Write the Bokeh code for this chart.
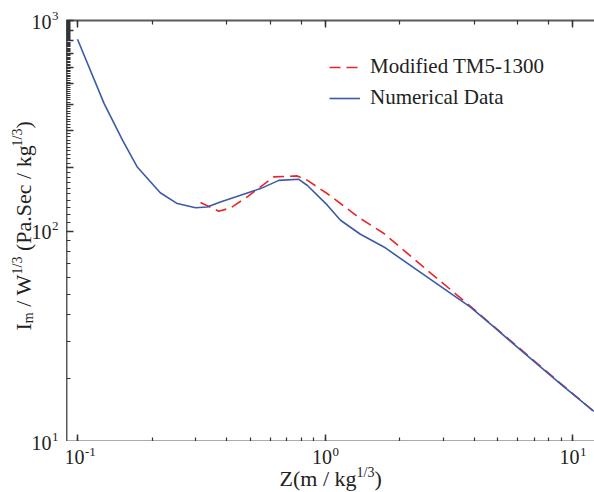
import math
from bokeh.plotting import figure
from bokeh.layouts import row, column
from bokeh.models import LogAxis, Label, Legend, LegendItem, Range1d, CustomJSTickFormatter
from bokeh.embed import file_html
from bokeh.resources import INLINE

# ---- data ----
blue_z = [0.100, 0.128, 0.152, 0.174, 0.216, 0.253, 0.300, 0.334, 0.378, 0.456,
          0.549, 0.651, 0.783, 0.847, 1.02, 1.155, 1.39, 1.73, 2.59, 3.87,
          4.81, 6.56, 8.94, 12.2]
blue_i = [814, 404, 270, 202, 152, 135, 129, 130, 137.5, 148,
          159, 174, 176, 165, 133, 112.5, 96.5, 84, 60.4, 43.5,
          35.0, 25.6, 18.8, 13.9]

red_z = [0.314, 0.372, 0.415, 0.485, 0.549, 0.621, 0.772, 0.847, 1.02, 1.155,
         1.39, 1.73, 2.59, 3.87, 4.81, 6.56, 8.94, 12.2]
red_i = [136.6, 124.2, 128.7, 145.2, 162, 180.7, 182.7, 174.3, 150.7, 135.1,
         114.6, 97.3, 65.1, 43.9, 35.2, 25.8, 18.9, 13.9]

series_names = ["Modified TM5-1300", "Numerical Data"]
x_tick_values = [0.1, 1, 10]
x_tick_exponents = ["-1", "0", "1"]
y_tick_values = [10, 100, 1000]
y_tick_exponents = ["1", "2", "3"]
y_min, y_max = 10, 1000

FONT = "Liberation Serif"
TXT = "#222222"
W, H = 594, 492
FL, FR, FT, FB = 66, 594, 20, 441   # plot-area edges in window px
XDEC, X_1 = 247.5, 77.0             # px per decade, px of x=0.1
YDEC = (FB - FT) / 2.0              # px per decade in y
BASE = 0.29                         # baseline correction (fraction of font size)


def dx(px):
    return 10 ** (-1 + (px - X_1) / XDEC)


# ---------------- main plot ----------------
p = figure(width=FR - FL, height=FB, x_axis_type="log", y_axis_type="log",
           x_range=Range1d(dx(FL), dx(FR)), y_range=Range1d(y_min, y_max),
           output_backend="svg", toolbar_location=None,
           min_border_left=0, min_border_right=0,
           min_border_top=FT, min_border_bottom=0)
p.outline_line_color = None
p.xgrid.visible = False
p.ygrid.visible = False

top_axis = LogAxis()
p.add_layout(top_axis, "above")

for ax in list(p.below) + list(p.left) + list(p.above):
    ax.axis_line_color = "#5a5a5a"
    ax.axis_line_width = 2
    ax.major_tick_line_color = "#333333"
    ax.minor_tick_line_color = "#333333"
    ax.major_tick_line_width = 1.5
    ax.minor_tick_line_width = 1.2
    ax.major_tick_in = 7
    ax.major_tick_out = 0
    ax.minor_tick_in = 4
    ax.minor_tick_out = 0
    ax.formatter = CustomJSTickFormatter(code="return ''")
    ax.major_label_text_font_size = "1px"
    ax.major_label_standoff = 0

r_red = p.line(red_z, red_i, line_color="#e8262b", line_width=1.6, line_dash="11 6")
r_blue = p.line(blue_z, blue_i, line_color="#3b5aa9", line_width=1.6)

legend = Legend(items=[LegendItem(label=series_names[0], renderers=[r_red]),
                       LegendItem(label=series_names[1], renderers=[r_blue])],
                location=(263, 331))
legend.padding = 0
legend.margin = 0
legend.border_line_color = None
legend.background_fill_alpha = 0
legend.label_text_font = FONT
legend.label_text_font_size = "21px"
legend.label_text_color = TXT
legend.glyph_width = 31
legend.glyph_height = 22
legend.label_height = 22
legend.spacing = 6
legend.label_standoff = 10
p.add_layout(legend)


# ---------------- text strips (pixel coordinates) ----------------
def strip(w, h):
    f = figure(width=w, height=h, x_range=Range1d(0, w), y_range=Range1d(h, 0),
               output_backend="svg", toolbar_location=None, min_border=0,
               x_axis_location=None, y_axis_location=None)
    f.outline_line_color = None
    f.xgrid.visible = False
    f.ygrid.visible = False
    return f


left = strip(FL, H)           # window px: x, y directly
bottom = strip(FR - FL, H - FB)   # window px: x - FL, y - FB


def lab(fig, x, y, text, size, align="left", angle=0.0):
    if angle:
        x = x - BASE * size
    else:
        y = y - BASE * size
    fig.add_layout(Label(x=x, y=y, text=text, text_font=FONT,
                         text_font_size=f"{size}px", text_align=align,
                         text_baseline="alphabetic", angle=angle,
                         text_color=TXT))


# x tick labels
for v, e in zip(x_tick_values, x_tick_exponents):
    tx = X_1 + (math.log10(v) + 1) * XDEC - FL
    lab(bottom, tx + 7, 462 - FB, "10", 20, "right")
    lab(bottom, tx + 7.5, 455 - FB, e, 13)

# y tick labels
for v, e in zip(y_tick_values, y_tick_exponents):
    ty = FT + (3 - math.log10(v)) * YDEC
    lab(left, 51, ty + 7, "10", 20, "right")
    lab(left, 51.5, ty - 1, e, 13)

# x axis label: Z(m / kg^{1/3})
lab(bottom, 279 - FL, 484 - FB, "Z(m / kg", 22)
lab(bottom, 356 - FL, 476 - FB, "1/3", 14)
lab(bottom, 374 - FL, 484 - FB, ")", 22)

# y axis label (rotated): I_m / W^{1/3} (Pa.Sec / kg^{1/3})
BX = 29.5
pieces = [
    ("I", 22, BX, 330),
    ("m", 14, BX + 3, 322.7),
    ("/ W", 22, BX, 306.3),
    ("1/3", 14, BX - 8, 273.9),
    ("(Pa.Sec / kg", 22, BX, 250.5),
    ("1/3", 14, BX - 8, 145.9),
    (")", 22, BX, 128),
]
for t, fs, bx, by in pieces:
    lab(left, bx, by, t, fs, "left", math.pi / 2)

layout = row(left, column(p, bottom, spacing=0), spacing=0)
open("out.html", "w").write(file_html(layout, INLINE))
